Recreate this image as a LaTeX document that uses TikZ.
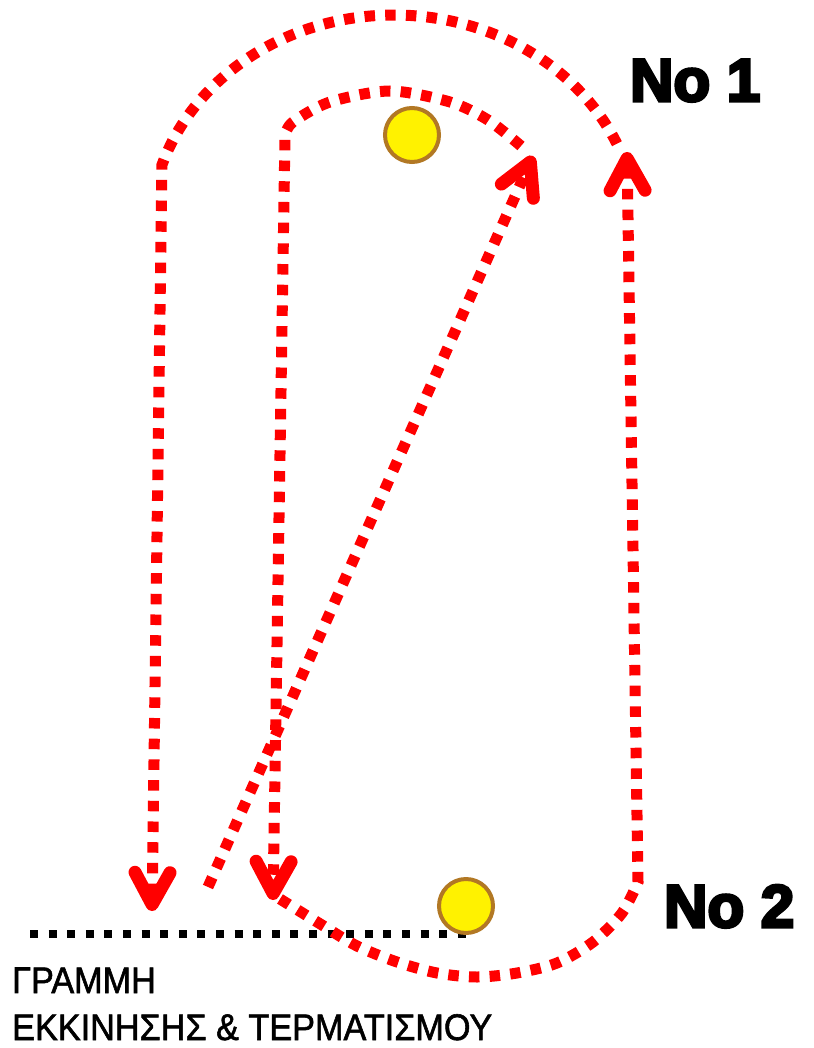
\documentclass[tikz,border=0pt]{standalone}
\usepackage{fontspec}
\usepackage{graphicx}
\setmainfont{Liberation Sans}
\newfontfamily\heavyfont{Liberation Sans}[BoldFeatures={FakeBold=5}]
\newfontfamily\captionfont{Liberation Sans}[FakeBold=1.6]
\usetikzlibrary{arrows.meta}
\definecolor{ballborder}{RGB}{178,120,36}
\begin{document}
\begin{tikzpicture}[x=1pt,y=-1pt,
  route/.style={draw=red, line width=11pt, dash pattern=on 10.5pt off 10.2pt},
  headtip/.style={-{Straight Barb[length=32pt,width=35pt,line width=13pt,round]}},
  startline/.style={draw=black, line width=8pt, dash pattern=on 8pt off 10.6pt},
  ball/.style={circle, draw=ballborder, line width=4pt, fill=yellow, minimum size=54pt, inner sep=0pt},
  numlabel/.style={font=\heavyfont\bfseries\fontsize{60}{64}\selectfont, anchor=base west, inner sep=0pt},
  linetext/.style={font=\captionfont\fontsize{37}{40}\selectfont, anchor=base west, inner sep=0pt}]
\useasboundingbox (0,0) rectangle (813,1048);
\fill[white] (0,0) rectangle (813,1048);

% named points
\coordinate (d0) at (208,887);
\coordinate (d1) at (533,156);
\coordinate (itop) at (285,135);
\coordinate (i1) at (273,900);
\coordinate (r0) at (638,882);
\coordinate (r1) at (627,152);
\coordinate (o1) at (152,911);
\coordinate (s0) at (30,934);
\coordinate (s1) at (467,934);

% start / finish line
\draw[startline] (s0) -- (s1);

% diagonal run
\draw[route, headtip] (d0) -- (d1);

% inner arc around ball 1 and down
\draw[route, headtip] plot[smooth] coordinates {(521,146) (488,120) (450,102) (390,91) (330,102) (293,122) (itop)} -- (i1);

% bottom arc around ball 2 and up the right side
\draw[route, headtip] plot[smooth] coordinates {(280,899) (322,925) (357,946) (397,962) (437,973) (477,977) (517,973) (557,963) (593,942) (622,913) (r0)} -- (r1);

% outer arc and down the left side
\draw[route, headtip] plot[domain=198:336, samples=90, smooth] ({394+244*cos(534-\x)},{232+217*sin(534-\x)}) -- (o1);

% balls
\node[ball] (b1) at (412,135) {};
\node[ball] (b2) at (466,906) {};

% labels
\node[numlabel] (n1) at (630,101) {No 1};
\node[numlabel] (n2) at (664,927) {No 2};
\node[linetext] (t1) at (12,993) {\scalebox{0.925}[1]{ΓΡΑΜΜΗ}};
\node[linetext] (t2) at (12,1040) {\scalebox{0.925}[1]{ΕΚΚΙΝΗΣΗΣ \& ΤΕΡΜΑΤΙΣΜΟΥ}};
\end{tikzpicture}
\end{document}
